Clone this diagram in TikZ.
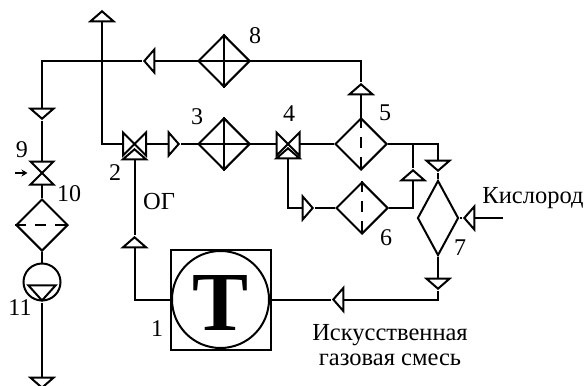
\documentclass[tikz,border=0pt]{standalone}
\usepackage{fontspec}
\setmainfont{Liberation Serif}
\usetikzlibrary{shapes.geometric,arrows.meta}

\begin{document}
\begin{tikzpicture}[
  x=1pt, y=-1pt, line width=2pt,
  tri/.style={draw, fill=white, isosceles triangle, isosceles triangle stretches, inner sep=0pt, minimum height=10pt, minimum width=23pt, rotate=#1},
  exch/.style={draw, diamond, inner sep=0pt, minimum width=52pt, minimum height=52pt},
  valve/.style={rectangle, inner sep=0pt, minimum size=21pt},
  lbl/.style={font=\fontsize{24}{26}\selectfont, inner sep=0pt},
  txt/.style={font=\fontsize{24.5}{26}\selectfont, inner sep=0pt, align=center}
]
\useasboundingbox (0,0) rectangle (585,385);

% turbine
\node[draw, rectangle, minimum size=100pt, inner sep=0pt] (sq) at (220.5,299.5) {};
\node[draw, circle, minimum size=97pt, inner sep=0pt] (ring) at (220.5,299.5) {};
\node[inner sep=0pt, font=\fontsize{84}{84}\selectfont\bfseries] (bigT) at (220.5,303) {Т};

% exchangers
\node[exch] (d8) at (224,61) {};
\node[exch] (d3) at (224,144) {};
\node[exch] (d5) at (361,144) {};
\node[exch] (d6) at (362,208) {};
\node[exch] (d10) at (42,225) {};
\node[draw, diamond, inner sep=0pt, minimum width=41pt, minimum height=75pt] (d7) at (438,218) {};
\node[draw, circle, minimum size=37pt, inner sep=0pt] (c11) at (42,282) {};

% valves
\node[valve] (v2) at (134.5,144) {};
\node[valve] (v4) at (288,144) {};
\node[valve] (v9) at (42,173) {};

% arrows
\node[tri=90] (aout) at (102,17) {};
\node[tri=180] (a8) at (150,61) {};
\node[tri=-90] (a9) at (42,113) {};
\node[tri=0] (a3) at (173,144) {};
\node[tri=90] (a2) at (134.5,155) {};
\node[tri=90] (a4) at (288,154) {};
\node[tri=90] (a1) at (134.5,243) {};
\node[tri=90] (a5) at (361,90) {};
\node[tri=0] (a6) at (307,208) {};
\node[tri=90] (a6up) at (413,176) {};
\node[tri=-90] (a7t) at (438,165) {};
\node[tri=180] (a7r) at (470,218) {};
\node[tri=-90] (a7b) at (438,283) {};
\node[tri=180] (a1r) at (339,299.5) {};
\node[tri=-90] (aend) at (42,382) {};
\node[tri=-90, minimum height=15pt, minimum width=27pt] (a11) at (42,291.5) {};

\coordinate (j) at (102,61);
\coordinate (k9) at (15,173);
\coordinate (k7) at (503,218);

\foreach \v in {v2,v4}
  \draw (\v.north west) -- (\v.south east) -- (\v.north east) -- (\v.south west) -- cycle;
\draw (v9.north west) -- (v9.north east) -- (v9.south west) -- (v9.south east) -- cycle;

\foreach \d in {d8,d3} {
  \draw (\d.north) -- (\d.south);
  \draw (\d.west) -- (\d.east);
  \fill (\d.north) -- ++(-4,4) -- ++(8,0) -- cycle;
  \fill (\d.south) -- ++(-4,-4) -- ++(8,0) -- cycle;
}
\draw[dash pattern=on 11pt off 9pt] (d5.north) -- (d5.south);
\draw[dash pattern=on 11pt off 9pt] (d6.north) -- (d6.south);
\draw[dash pattern=on 11pt off 9pt] (d10.west) -- (d10.east);

% connectors
\draw (aout) -- (j);
\draw (d8) -- (a8);
\draw (a8) -- (j);
\draw (j) -| (a9);
\draw (a9) -- (v9);
\draw (v9) -- (d10);
\draw (d10) -- (c11);
\draw (a11.apex) -- (aend);
\draw[-{Stealth[length=6pt,width=7pt]}, line width=1.2pt, shorten >=3pt] (k9) -- (v9.west);
\draw (j) |- (v2);
\draw (v2) -- (a3);
\draw (a3) -- (d3);
\draw (d3) -- (v4);
\draw (v4) -- (d5);
\draw (a2) -- (a1);
\draw (a1) |- (sq);
\draw (a4) |- (a6);
\draw (a6) -- (d6);
\draw (d6) -| (a6up);
\draw (a6up) -- (a6up |- d5.east);
\draw (d5) -- (a5);
\draw (a5) |- (d8);
\draw (d5) -| (a7t);
\draw (a7t) -- (d7);
\draw (k7) -- (a7r);
\draw (a7r) -- (d7);
\draw (d7) -- (a7b);
\draw (a7b) |- (a1r);
\draw (a1r) -- (sq);

% labels
\node[lbl] (l8) at (255,36) {8};
\node[lbl] (l3) at (197,117) {3};
\node[lbl] (l4) at (289,114) {4};
\node[lbl] (l5) at (385,113) {5};
\node[lbl] (l6) at (386,238) {6};
\node[lbl] (l7) at (460,248) {7};
\node[lbl] (l2) at (115,173) {2};
\node[lbl] (l9) at (22,150) {9};
\node[lbl] (l10) at (69,194) {10};
\node[lbl] (l11) at (20,308) {11};
\node[lbl] (l1) at (157,329) {1};
\node[txt] (og) at (159,202) {ОГ};
\node[txt] (oxy) at (533,198) {Кислород};
\node[txt] (mix) at (390,345.5) {Искусственная\\[-1pt]газовая смесь};
\end{tikzpicture}
\end{document}
